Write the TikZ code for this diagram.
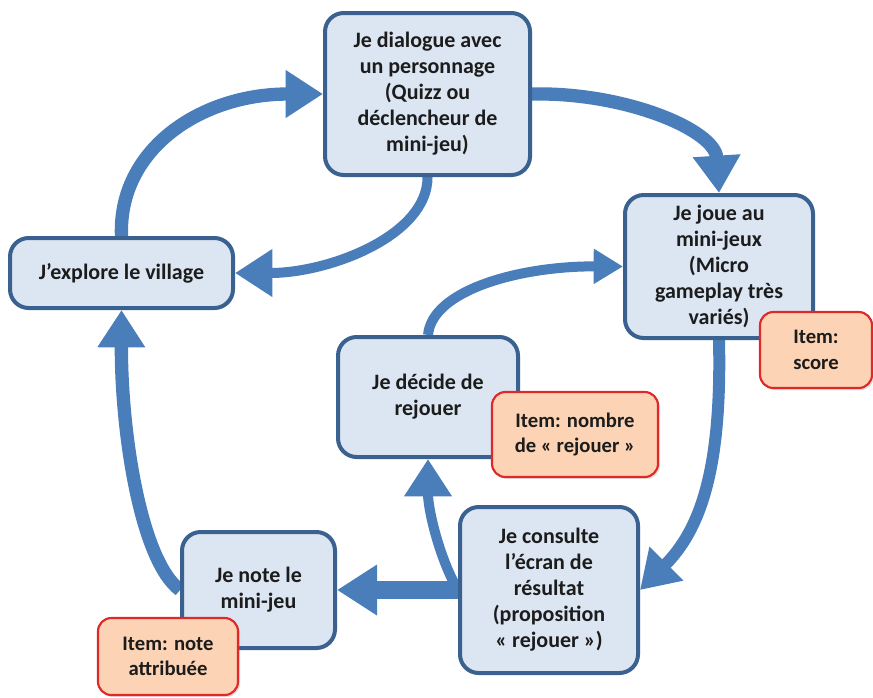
\documentclass[tikz,border=0pt]{standalone}
\usepackage{fontspec}
\setmainfont{Carlito}
\usetikzlibrary{arrows.meta,backgrounds,shadows}
\definecolor{boxfill}{HTML}{DCE6F2}
\definecolor{boxline}{HTML}{3A6190}
\definecolor{arrowblue}{HTML}{4A7EBB}
\definecolor{itemfill}{HTML}{FCD3B4}
\definecolor{itemline}{HTML}{E02828}
\definecolor{textdark}{HTML}{1C1C1C}
\begin{document}
\begin{tikzpicture}[x=0.75pt, y=-0.75pt, font=\fontsize{16.5}{19.5}\selectfont\bfseries,
      etape/.style={draw=boxline, line width=3pt, rounded corners=14pt, fill=boxfill, align=center, text=textdark, inner sep=2pt},
      item/.style={draw=itemline, line width=1.6pt, rounded corners=10pt, fill=itemfill, align=center, text=textdark, inner sep=2pt,
                   font=\fontsize{15.5}{19}\selectfont\bfseries,
                   drop shadow={opacity=0.25, shadow xshift=1.5pt, shadow yshift=-1.5pt}},
      flow/.style={draw=arrowblue, line width=8pt, -{Triangle[length=28pt,width=34pt]}}]
      \useasboundingbox (0,0) rectangle (873,697);
      \node[etape, minimum width=153.75pt, minimum height=121.5pt] (dial)     at (427.5,94)  {Je dialogue avec\\un personnage\\(Quizz ou\\déclencheur de\\mini-jeu)};
      \node[etape, minimum width=141pt,    minimum height=107.25pt] (joue)    at (719,266.5) {Je joue au\\mini-jeux\\(Micro\\gameplay très\\variés)};
      \node[etape, minimum width=167.25pt, minimum height=52.5pt]  (explore)  at (121.5,273) {J’explore le village};
      \node[etape, minimum width=135pt,    minimum height=90pt]    (decide)   at (428,397)   {Je décide de\\rejouer};
      \node[etape, minimum width=133.5pt,  minimum height=124.5pt] (consulte) at (549,590)   {Je consulte\\l’écran de\\résultat\\(proposition\\«~rejouer~»)};
      \node[etape, minimum width=114.75pt, minimum height=87pt]    (note)     at (258.5,590) {Je note le\\mini-jeu};
      \node[item, minimum width=84pt,    minimum height=57pt]    (score)    at (816,350)   {Item:\\score};
      \node[item, minimum width=124.5pt, minimum height=63.75pt] (nombre)   at (575,434.5) {Item: nombre\\de «~rejouer~»};
      \node[item, minimum width=105pt,   minimum height=57.75pt] (attrib)   at (168,656.5) {Item: note\\attribuée};
      \begin{scope}[on background layer]
        \draw[flow, line width=10pt] (explore.north) .. controls (118,150) and (200,94) .. (dial.west);
        \draw[flow, line width=10pt] (dial.east) .. controls (625,92) and (715,130) .. (joue.north);
        \draw[flow, line width=7.5pt] (dial.south) .. controls (428,235) and (330,273) .. (explore.east);
        \draw[flow, line width=9pt] (joue.south) .. controls (722,470) and (700,530) .. (consulte.east);
        \draw[flow, line width=7.5pt] (consulte.west) .. controls (440,560) and (428,510) .. (decide.south);
        \draw[flow, line width=13pt, -{Triangle[length=30pt,width=36pt]}] (consulte.west) -- (note.east);
        \draw[flow, line width=10pt] (note.west) .. controls (140,560) and (121,430) .. (explore.south);
        \draw[flow, line width=7.5pt, -{Triangle[length=22pt,width=25pt]}] (decide.north) .. controls (432,290) and (520,266) .. (joue.west);
      \end{scope}
    \end{tikzpicture}
\end{document}
